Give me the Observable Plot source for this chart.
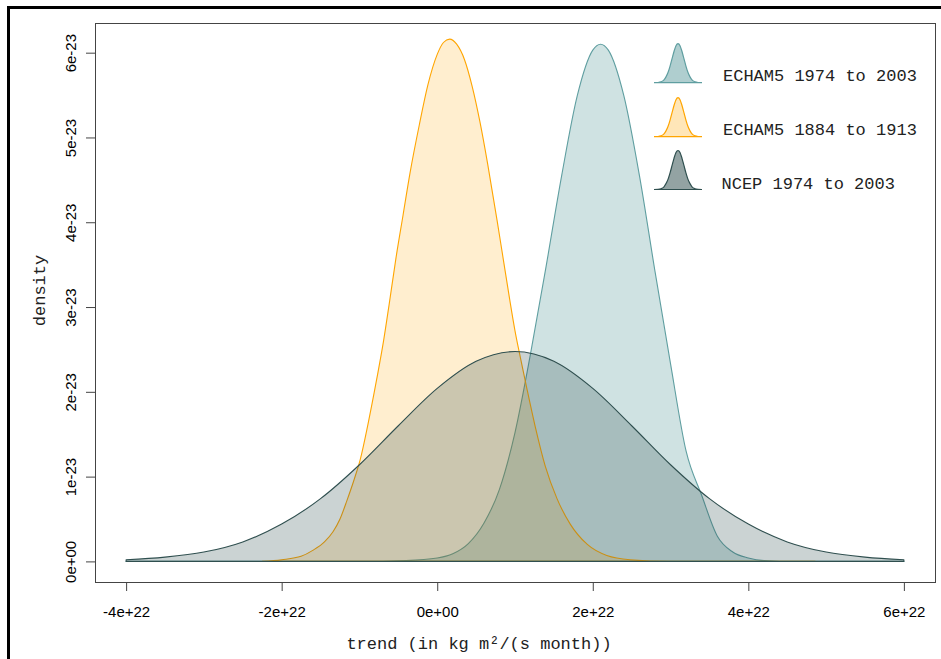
<!DOCTYPE html>
<html>
<head>
<meta charset="utf-8">
<script src="https://cdn.jsdelivr.net/npm/d3@7"></script>
<script src="https://cdn.jsdelivr.net/npm/@observablehq/plot@0.6"></script>
<style>
  body { margin: 0; background: #fff; }
  #wrap { position: relative; width: 941px; height: 659px; overflow: hidden; background: #fff; }
  #wrap svg { position: absolute; left: 0; top: 0; }
  #border { position: absolute; left: 7px; top: 6px; width: 1000px; height: 1000px;
            border-left: 3px solid #000; border-top: 3px solid #000; pointer-events: none; }
</style>
</head>
<body>
<div id="wrap"><div id="border"></div></div>
<script>
// Trend values are in units of 1e22 kg m²/(s month); densities in units of 1e-23.

// ECHAM5 1974 to 2003
const echam1974Trend   = [-4, -1, -0.4, 0, 0.2, 0.4, 0.6, 0.8, 1.0, 1.2, 1.4, 1.6, 1.8, 2.0, 2.1, 2.2, 2.4, 2.6, 2.8, 3.0, 3.2, 3.4, 3.6, 3.8, 4.0, 4.2, 4.6, 6];
const echam1974Density = [0, 0, 0.01, 0.04, 0.09, 0.21, 0.45, 0.85, 1.52, 2.45, 3.48, 4.55, 5.49, 6.03, 6.10, 6.03, 5.49, 4.55, 3.42, 2.33, 1.30, 0.78, 0.30, 0.11, 0.04, 0.01, 0, 0];

// ECHAM5 1884 to 1913
const echam1884Trend   = [-2.25, -2.0, -1.75, -1.6, -1.45, -1.34, -1.25, -1.16, -1.07, -0.99, -0.89, -0.78, -0.69, -0.62, -0.53, -0.44, -0.35, -0.23, -0.12, 0.0, 0.08, 0.16, 0.25, 0.35, 0.45, 0.55, 0.65, 0.77, 0.85, 0.93, 1.00, 1.07, 1.15, 1.26, 1.39, 1.54, 1.71, 1.93, 2.18, 2.48, 3.0, 4.86];
const echam1884Density = [0, 0.02, 0.06, 0.13, 0.23, 0.35, 0.50, 0.72, 0.96, 1.20, 1.62, 2.14, 2.60, 3.02, 3.58, 4.08, 4.58, 5.15, 5.62, 5.98, 6.12, 6.16, 6.10, 5.92, 5.60, 5.18, 4.68, 4.02, 3.56, 3.10, 2.72, 2.40, 2.05, 1.59, 1.12, 0.74, 0.44, 0.20, 0.07, 0.02, 0, 0];

// NCEP 1974 to 2003
const ncepTrend   = [-4, -3.5, -3, -2.5, -2, -1.5, -1, -0.5, 0, 0.5, 1, 1.5, 2, 2.5, 3, 3.5, 4, 4.5, 5, 5.5, 6];
const ncepDensity = [0.02, 0.05, 0.11, 0.23, 0.44, 0.74, 1.14, 1.60, 2.04, 2.36, 2.475, 2.36, 2.04, 1.60, 1.14, 0.74, 0.44, 0.23, 0.11, 0.05, 0.02];

// Axis ticks
const xTicks = [-4, -2, 0, 2, 4, 6];
const xTickLabels = ["-4e+22", "-2e+22", "0e+00", "2e+22", "4e+22", "6e+22"];
const yTicks = [0, 1, 2, 3, 4, 5, 6];
const yTickLabels = ["0e+00", "1e-23", "2e-23", "3e-23", "4e-23", "5e-23", "6e-23"];

// Legend entries and the profile of the small bump drawn beside each one
const seriesNames = ["ECHAM5 1974 to 2003", "ECHAM5 1884 to 1913", "NCEP 1974 to 2003"];
const lineColors  = ["#5f9ea0", "#ffa500", "#2f4f4f"];
const fillOpacity = [0.30, 0.19, 0.25];
const legendFillOpacity = [0.50, 0.28, 0.52];
const glyphOffset = [-24, -20, -17, -14, -12, -10, -8, -6, -4, -2, 0, 2, 4, 6, 8, 10, 12, 14, 17, 20, 24];
const glyphHeight = [0, 0.004, 0.02, 0.07, 0.15, 0.26, 0.42, 0.61, 0.80, 0.95, 1, 0.95, 0.80, 0.61, 0.42, 0.26, 0.15, 0.07, 0.02, 0.004, 0];

const trends = [echam1974Trend, echam1884Trend, ncepTrend];
const densities = [echam1974Density, echam1884Density, ncepDensity];

const rows = seriesNames.map((name, s) =>
  trends[s].map((t, i) => ({series: name, trend: t, density: densities[s][i]}))
);

const mono = "'Liberation Mono', 'Courier New', Courier, monospace";

const areas = rows.map((data, s) =>
  Plot.areaY(data, {
    x: "trend", y: "density", curve: "monotone-x",
    fill: lineColors[s], fillOpacity: fillOpacity[s],
    stroke: lineColors[s], strokeWidth: 1.1
  })
);

const chart = Plot.plot({
  width: 941, height: 659,
  marginLeft: 95, marginRight: 6, marginTop: 23, marginBottom: 77,
  x: {domain: [-4.4, 6.4]},
  y: {domain: [-0.243, 6.35]},
  style: {fontFamily: "'Liberation Sans', Arial, Helvetica, sans-serif", fontSize: "15px", color: "#000", background: "transparent"},
  marks: [
    ...areas,
    Plot.frame({stroke: "#444"}),
    Plot.axisX({ticks: xTicks, tickFormat: d => xTickLabels[xTicks.indexOf(d)], tickSize: 9, tickPadding: 15, label: null, stroke: "#444"}),
    Plot.axisY({ticks: yTicks, tickFormat: d => yTickLabels[yTicks.indexOf(d)], tickSize: 9, tickPadding: 11, tickRotate: -90, label: null, stroke: "#444"}),
    Plot.text(["trend (in kg m²/(s month))"], {
      frameAnchor: "bottom-left", dx: 383.5, dy: 66, lineAnchor: "bottom", textAnchor: "middle",
      fontFamily: mono, fontSize: 17, fill: "#222"
    }),
    Plot.text(["density"], {
      frameAnchor: "left", dx: -51, dy: -12.5, rotate: -90, lineAnchor: "bottom", textAnchor: "middle",
      fontFamily: mono, fontSize: 17, fill: "#222"
    })
  ]
});

document.getElementById("wrap").prepend(chart);

// Legend: a small density bump and a label for each series, top right of the panel
const svg = d3.select(chart);
const legend = svg.append("g").attr("text-anchor", "start");
const glyphCenterX = 678, glyphPeak = 39;
const legendBaselines = [82.7, 136.7, 189.5];
const legendTextX = [723, 723, 721.5];
const legendTextY = [81, 135, 188.5];
const bump = (cy) => d3.area()
  .x((d, i) => glyphCenterX + glyphOffset[i])
  .y0(cy)
  .y1((d, i) => cy - glyphPeak * glyphHeight[i])
  .curve(d3.curveMonotoneX);

seriesNames.forEach((name, s) => {
  const cy = legendBaselines[s];
  legend.append("path")
    .attr("d", bump(cy)(glyphHeight))
    .attr("fill", lineColors[s]).attr("fill-opacity", legendFillOpacity[s])
    .attr("stroke", lineColors[s]).attr("stroke-width", 1.2);
  legend.append("text")
    .attr("x", legendTextX[s]).attr("y", legendTextY[s])
    .attr("text-anchor", "start")
    .attr("font-family", mono).attr("font-size", 17).attr("fill", "#222")
    .text(name);
});
</script>
</body>
</html>
